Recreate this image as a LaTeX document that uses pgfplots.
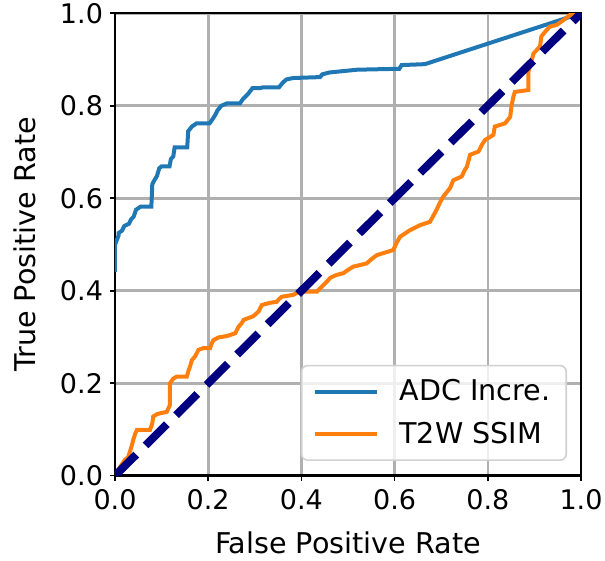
\documentclass[border=0pt]{standalone}
\usepackage{fontspec}
\setmainfont{DejaVu Sans}
\usepackage{pgfplots}
\pgfplotsset{compat=1.18}
\definecolor{mplblue}{HTML}{1F77B4}
\definecolor{mplorange}{HTML}{FF7F0E}
\definecolor{mplnavy}{HTML}{000080}
\definecolor{gridgray}{HTML}{B0B0B0}

\begin{document}
\begin{tikzpicture}
\begin{axis}[
  name=ax,
  scale only axis,
  width=233pt, height=231.2pt,
  xmin=0, xmax=1, ymin=0, ymax=1,
  xtick={0,0.2,...,1.0}, ytick={0,0.2,...,1.0},
  tick pos=left,
  tick align=outside,
  major tick length=2.5pt,
  every tick/.style={black, line width=0.8pt},
  axis line style={line width=1.2pt},
  grid=major,
  grid style={gridgray, line width=1.3pt},
  /pgf/number format/.cd, fixed, fixed zerofill, precision=1, assume math mode=true,
  /pgfplots/.cd,
  ticklabel style={font=\fontsize{13.5}{15}\selectfont},
  xticklabel style={yshift=-1pt},
  xlabel={False Positive Rate},
  ylabel={True Positive Rate},
  label style={font=\fontsize{14.3}{16}\selectfont},
  xlabel style={yshift=-4pt},
  ylabel style={yshift=5pt},
  legend style={
    at={(0.97,0.032)}, anchor=south east,
    draw=black!18, line width=0.8pt, rounded corners=3pt,
    fill=white, fill opacity=0.8, text opacity=1,
    font=\fontsize{14.3}{17}\selectfont,
    inner xsep=6pt, inner ysep=5pt, row sep=5pt,
    cells={anchor=west},
    /tikz/every odd column/.append style={column sep=8pt},
  },
  legend image code/.code={\draw[#1] (0pt,0pt) -- (31pt,0pt);},
]
\addplot[mplblue, line width=2pt] coordinates {
(0,0.44) (0,0.50) (0.008,0.52) (0.008,0.525) (0.015,0.53) (0.02,0.54) (0.03,0.545)
(0.035,0.555) (0.04,0.56) (0.045,0.575) (0.055,0.582) (0.078,0.582) (0.08,0.63)
(0.085,0.64) (0.09,0.648) (0.095,0.665) (0.1,0.669) (0.117,0.669) (0.12,0.685)
(0.125,0.69) (0.128,0.71) (0.155,0.71) (0.157,0.745) (0.165,0.755) (0.175,0.762)
(0.203,0.762) (0.21,0.772) (0.215,0.78) (0.22,0.79) (0.228,0.80) (0.24,0.805)
(0.268,0.805) (0.275,0.815) (0.285,0.825) (0.295,0.838) (0.31,0.838) (0.318,0.84)
(0.352,0.84) (0.36,0.85) (0.368,0.857) (0.382,0.86) (0.44,0.862) (0.445,0.868)
(0.46,0.872) (0.48,0.874) (0.52,0.878) (0.61,0.880) (0.615,0.888) (0.665,0.89) (1,1)
};
\addlegendentry{ADC Incre.}
\addplot[mplorange, line width=2pt] coordinates {
(0,0) (0.011,0.019) (0.021,0.034) (0.028,0.04) (0.032,0.052) (0.036,0.065) (0.039,0.077)
(0.043,0.09) (0.047,0.099) (0.075,0.099) (0.08,0.113) (0.082,0.128) (0.09,0.133)
(0.097,0.135) (0.111,0.138) (0.118,0.153) (0.118,0.20) (0.125,0.21) (0.132,0.214)
(0.154,0.214) (0.158,0.228) (0.161,0.236) (0.165,0.25) (0.172,0.258) (0.179,0.272)
(0.19,0.276) (0.204,0.276) (0.207,0.285) (0.211,0.293) (0.222,0.299) (0.24,0.302)
(0.258,0.308) (0.262,0.316) (0.265,0.322) (0.272,0.33) (0.276,0.337) (0.297,0.345)
(0.308,0.355) (0.315,0.369) (0.333,0.374) (0.347,0.376) (0.352,0.382) (0.358,0.387)
(0.382,0.391) (0.397,0.398) (0.433,0.398) (0.44,0.405) (0.447,0.412) (0.455,0.42)
(0.462,0.428) (0.475,0.434) (0.49,0.438) (0.5,0.445) (0.511,0.452) (0.54,0.459)
(0.55,0.468) (0.562,0.477) (0.597,0.488) (0.605,0.505) (0.612,0.517) (0.633,0.531)
(0.655,0.542) (0.676,0.549) (0.683,0.562) (0.69,0.575) (0.697,0.59) (0.704,0.603)
(0.719,0.622) (0.726,0.639) (0.744,0.647) (0.75,0.66) (0.755,0.668) (0.762,0.694)
(0.78,0.701) (0.787,0.715) (0.794,0.726) (0.812,0.737) (0.815,0.755) (0.837,0.762)
(0.848,0.776) (0.851,0.80) (0.855,0.82) (0.858,0.83) (0.887,0.834) (0.887,0.874)
(0.892,0.89) (0.898,0.913) (0.912,0.928) (0.915,0.95) (0.923,0.96) (0.933,0.971)
(0.948,0.975) (0.962,0.985) (0.976,0.996) (1,1)
};
\addlegendentry{T2W SSIM}
\addplot[mplnavy, line width=4pt, dash pattern=on 15pt off 6.5pt, forget plot] coordinates {(0,0) (1,1)};
\end{axis}
\pgfresetboundingbox
\path (ax.south west) ++(-57.5pt,-42.65pt) rectangle ([shift={(245pt,237.85pt)}]ax.south west);
\end{tikzpicture}
\end{document}
